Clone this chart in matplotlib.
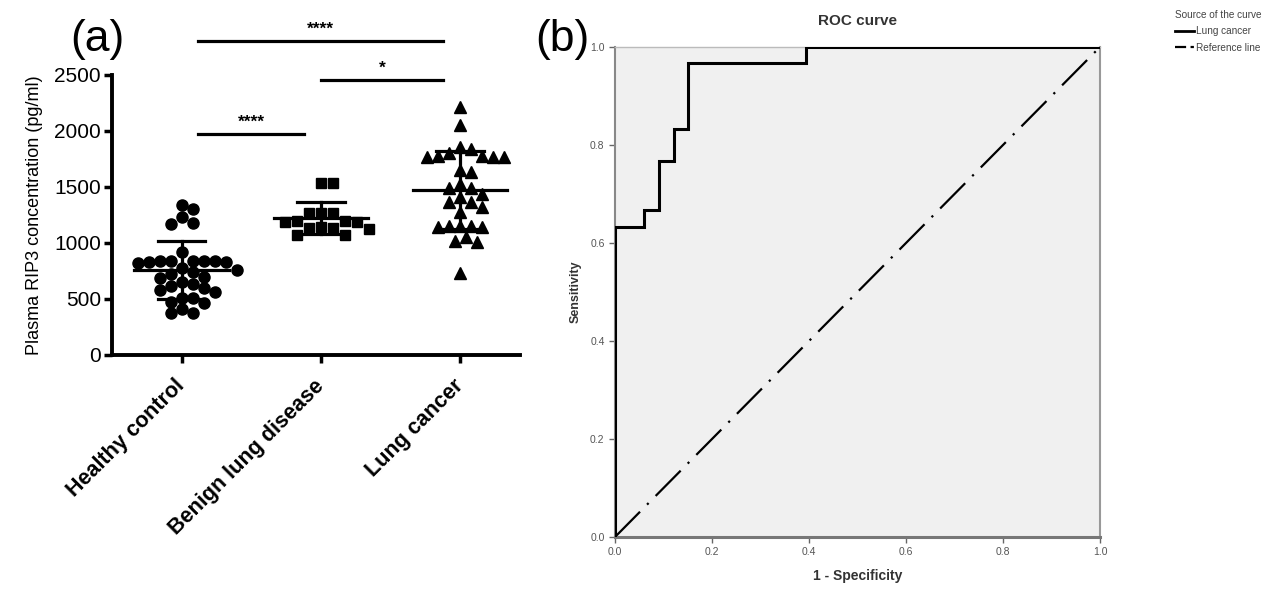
import numpy as np
import matplotlib
matplotlib.use('Agg')
import matplotlib.pyplot as plt
from matplotlib.lines import Line2D

plt.rcParams['font.family'] = ['Liberation Sans', 'DejaVu Sans']

# ---- panel (a) data: plasma RIP3 (pg/ml) ----
groups = ['Healthy control', 'Benign lung disease', 'Lung cancer']
healthy = [1340, 1300, 1235, 1170, 1180, 922,
           835, 830, 840, 825, 835, 830, 835, 840,
           780, 760, 740, 720, 700, 690,
           650, 630, 620, 600, 580, 560,
           512, 512, 476, 461, 410, 375, 375]
benign = [1540, 1540, 1265, 1265, 1270, 1190, 1200, 1195, 1185,
          1135, 1130, 1125, 1140, 1075, 1070]
cancer = [2210, 2050, 1840, 1860, 1775, 1770, 1770, 1765, 1775, 1650,
          1630, 1800, 1525, 1495, 1495, 1415, 1435, 1365, 1370, 1325,
          1280, 1150, 1145, 1150, 1140, 1150, 1055, 1010, 1015, 730]
markers = ['o', 's', '^']
yticks_a = [0, 500, 1000, 1500, 2000, 2500]
# significance: (group i, group j, label)
comparisons = [(0, 2, '****'), (1, 2, '*'), (0, 1, '****')]

# ---- panel (b) data: ROC steps (30 cases, 33 controls) ----
fpr = np.array([0, 0, 2, 2, 3, 3, 4, 4, 5, 5, 13, 13, 33]) / 33
tpr = np.array([0, 19, 19, 20, 20, 23, 23, 25, 25, 29, 29, 30, 30]) / 30
roc_ticks = [0.0, 0.2, 0.4, 0.6, 0.8, 1.0]


def swarm(vals, diam, xscale, yscale):
    # simple beeswarm in pixel space
    placed, offs = [], []
    cands = sorted([k * diam / 2 for k in range(-20, 21)], key=lambda c: (abs(c), c < 0))
    for v in vals:
        y = v * yscale
        for c in cands:
            if all((c - px) ** 2 + (y - py) ** 2 >= diam ** 2 for px, py in placed):
                break
        placed.append((c, y))
        offs.append(c / xscale)
    return np.array(offs)


fig = plt.figure(figsize=(12.64, 5.89), dpi=100)
axA = fig.add_axes([112 / 1264, 1 - 355 / 589, 408 / 1264, 280 / 589])
axB = fig.add_axes([615 / 1264, 1 - 537 / 589, 485 / 1264, 490 / 589])

# ---------------- panel (a) ----------------
xscale, yscale = 139.5, 280 / 2500
for i, (vals, m) in enumerate(zip([healthy, benign, cancer], markers)):
    vals = np.array(vals)
    order = np.argsort(-vals)
    xs = swarm(vals[order], 12 if m == 's' else 11, xscale, yscale)
    ms = {'o': 8, 's': 7.5, '^': 8.5}[m]
    axA.plot(i + xs, vals[order], m, color='black', ms=ms, mec='black', ls='none')
    mu, sd = vals.mean(), vals.std(ddof=1)
    axA.plot([i - 0.34, i + 0.34], [mu, mu], color='black', lw=2.3)
    axA.plot([i - 0.17, i + 0.17], [mu + sd, mu + sd], color='black', lw=2.3)
    axA.plot([i - 0.17, i + 0.17], [mu - sd, mu - sd], color='black', lw=2.3)
    axA.plot([i, i], [mu - sd, mu + sd], color='black', lw=2.3)

axA.set_xlim(-0.5, 2.43)
axA.set_ylim(0, 2500)
axA.set_yticks(yticks_a)
axA.set_xticks(range(3))
axA.set_xticklabels(groups, rotation=45, ha='right', va='center', rotation_mode='anchor',
                    fontsize=15.5, fontweight='bold')
axA.tick_params(axis='y', labelsize=15, width=2.5, length=6, pad=2)
axA.tick_params(axis='x', width=2.5, length=6, pad=14)
axA.set_ylabel('Plasma RIP3 concentration (pg/ml)', fontsize=13, labelpad=8)
for s in ['top', 'right']:
    axA.spines[s].set_visible(False)
for s in ['left', 'bottom']:
    axA.spines[s].set_linewidth(2.8)

bar_y = {(0, 2): 2804, (1, 2): 2455, (0, 1): 1973}
for gi, gj, lab in comparisons:
    y = bar_y[(gi, gj)]
    x0 = gi + 0.12 if gi == 0 else gi
    x1 = gj - 0.12
    axA.plot([x0, x1], [y, y], color='black', lw=2.3, clip_on=False)
    axA.text((x0 + x1) / 2, y + 40, lab, ha='center', va='bottom',
             fontsize=12.5, fontweight='bold')

# ---------------- panel (b) ----------------
axB.set_facecolor('#f0f0f0')
axB.plot(fpr, tpr, color='black', lw=2.2, solid_joinstyle='miter', label='Lung cancer', zorder=3)
axB.plot([0, 1], [0, 1], color='black', lw=1.6, dashes=[16, 4.5, 1, 4.5],
         label='Reference line', zorder=2)
axB.set_xlim(0, 1)
axB.set_ylim(0, 1)
axB.set_xticks(roc_ticks)
axB.set_yticks(roc_ticks)
axB.set_xticklabels([f'{t:.1f}' for t in roc_ticks])
axB.set_yticklabels([f'{t:.1f}' for t in roc_ticks])
axB.tick_params(labelsize=7.5, colors='#666', labelcolor='#555', length=4, width=1)
axB.spines['left'].set_color('#888')
axB.spines['left'].set_linewidth(1.5)
axB.spines['bottom'].set_color('#777')
axB.spines['bottom'].set_linewidth(2.2)
axB.spines['right'].set_color('#999')
axB.spines['right'].set_linewidth(1.5)
axB.spines['top'].set_color('#bbb')
axB.spines['top'].set_linewidth(1)
axB.set_title('ROC curve', fontsize=11, fontweight='bold', color='#333', pad=16)
axB.set_ylabel('Sensitivity', fontsize=9, fontweight='bold', color='#333', labelpad=6)
axB.set_xlabel('1 - Specificity', fontsize=10, fontweight='bold', color='#333', labelpad=8)

handles = [Line2D([], [], color='black', lw=2), Line2D([], [], color='black', lw=1.6, dashes=[5, 2, 1.5, 2])]
leg = axB.legend(handles, ['Lung cancer', 'Reference line'], loc='upper left',
                 bbox_to_anchor=(1.137, 1.094), frameon=False, title='Source of the curve',
                 fontsize=7.2, title_fontsize=7.2, handlelength=1.9, handletextpad=0.2,
                 labelspacing=0.65, alignment='left', labelcolor='#444')
leg.get_title().set_color('#444')

fig.text(97 / 1264, 1 - 40 / 589, '(a)', ha='center', va='center', fontsize=32)
fig.text(562 / 1264, 1 - 40 / 589, '(b)', ha='center', va='center', fontsize=32)

fig.savefig('out.png', dpi=100)
